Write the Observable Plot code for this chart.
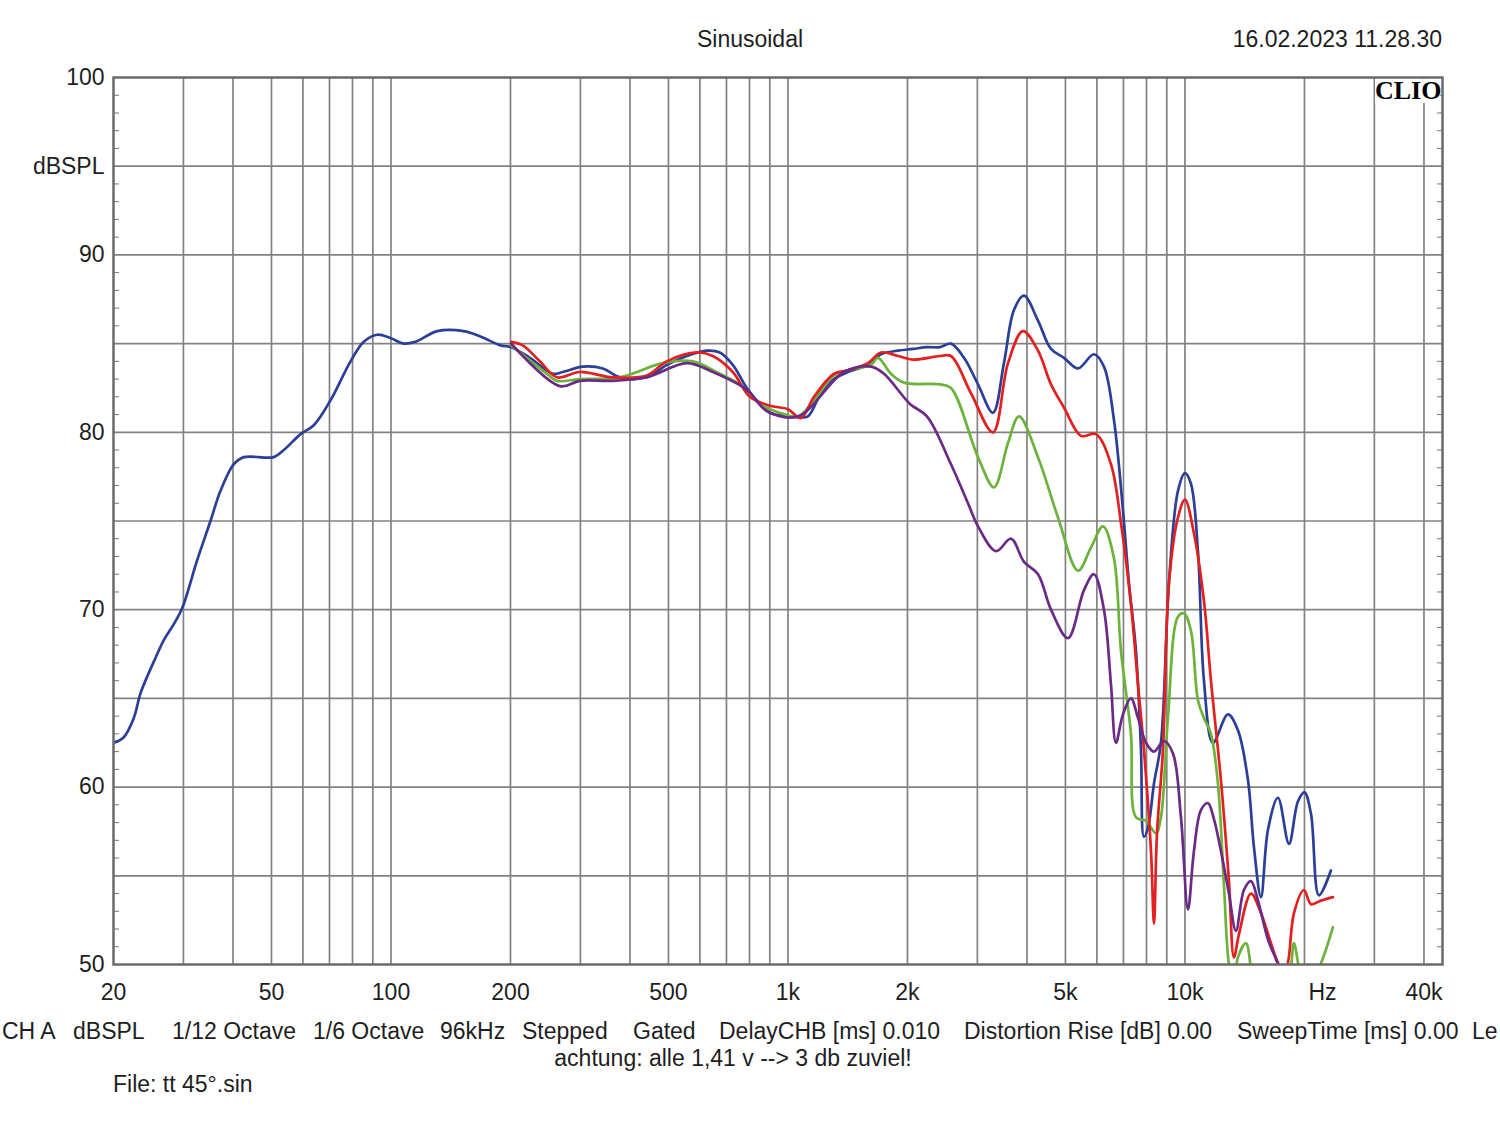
<!DOCTYPE html>
<html><head><meta charset="utf-8">
<script src="https://cdn.jsdelivr.net/npm/d3@7"></script>
<script src="https://cdn.jsdelivr.net/npm/@observablehq/plot@0.6"></script>
<style>
body{margin:0;background:#fff;font-family:"Liberation Sans",Arial,sans-serif;color:#1e1e1e;}
#wrap{position:relative;width:1500px;height:1121px;overflow:hidden;background:#fff;}
#wrap svg{position:absolute;left:0;top:0;}
.t{position:absolute;font-size:23px;white-space:nowrap;line-height:23px;}
#clio{position:absolute;left:1375px;top:79px;width:65px;height:24px;background:#fff;font-family:"Liberation Serif","Times New Roman",serif;font-weight:bold;font-size:26px;line-height:24px;text-align:right;color:#000;}
</style></head><body><div id="wrap"></div>
<script>
// ---- data (frequency in Hz, level in dB SPL) ----
const blueHz = [20,21.2,22.5,23.4,25.3,26.8,28.4,29.8,32.5,35.1,37.2,40.2,42.6,50.7,53.7,59.2,63.9,70.4,79.1,85.4,92.3,100,107.7,115.3,130.8,152.5,168,188.7,200.8,223.8,255.7,270.9,304.2,341.6,377.1,440.9,495.2,556.2,624.6,673.4,726.1,787.5,849.3,900,1000,1060,1123,1211,1306,1416,1554,1715,1893,2065,2239,2415,2574,2776,3011,3284,3500,3710,3931,4264,4598,4958,5377,5898,6251,6624,6980,7227,7526,7749,7884,8070,8356,8700,9113,9603,10000,10354,10783,11165,11763,12831,13598,14412,14923,15541,16186,17150,18281,19262,20000,20770,21750,23318];
const blueDb = [62.5,62.8,63.9,65.3,67.1,68.3,69.2,70.1,72.8,75.0,76.7,78.2,78.6,78.6,79.0,79.9,80.4,81.8,84.0,85.1,85.5,85.3,85.0,85.1,85.7,85.7,85.4,84.9,84.8,84.2,83.3,83.4,83.7,83.6,83.1,83.1,83.8,84.3,84.6,84.5,83.8,82.5,81.6,81.1,80.9,80.85,80.9,82.2,83.0,83.4,83.7,84.4,84.6,84.7,84.8,84.8,85.0,84.2,82.7,81.1,83.9,86.9,87.7,86.3,84.7,84.2,83.6,84.4,83.7,80.7,75.6,71.5,67.7,62.1,57.2,57.7,60.2,62.5,71.5,76.7,77.7,77.1,73.3,66.0,62.5,64.1,63.2,60.4,56.6,53.8,57.6,59.4,56.8,59.2,59.7,58.5,53.9,55.3];

const redHz = [200.8,214.7,237.2,261.7,299,362.1,440.9,495.2,589.4,646.7,726.1,801.3,900,1000,1078,1163,1306,1416,1590,1715,1893,2065,2415,2574,2891,3284,3583,3908,4264,4598,4958,5470,5967,6510,6899,7311,7614,7884,8212,8356,8502,8802,9113,9603,10000,10536,11165,11628,12320,12906,13285,13677,14665,15541,16469,17150,17760,18170,18820,19944,20770,22005,23590];
const redDb = [85.1,84.9,84.0,83.1,83.4,83.1,83.2,84.0,84.5,84.3,83.4,82.0,81.5,81.3,80.8,82.0,83.3,83.5,83.9,84.5,84.3,84.1,84.3,84.3,82.2,80.0,83.9,85.7,84.6,82.7,81.4,79.8,79.9,78.2,74.9,70.3,65.8,62.1,56.4,52.3,57.4,62.1,71.5,75.2,76.2,74.3,70.5,66.0,60.4,54.7,50.4,51.7,54.0,52.9,51.2,50.1,49.6,50.1,52.9,54.2,53.4,53.6,53.8];

const greenHz = [200.8,246.9,261.7,299,377.1,483.9,575.9,673.4,756.2,849.3,953.6,1060,1163,1306,1416,1619,1686,1817,1960,2415,2574,3011,3303,3583,3819,4264,4788,5377,5797,6215,6624,6899,7311,7526,7977,8453,8700,9061,9603,9943,10354,10783,11165,11628,12108,12537,12906,13285,13598,14245,14665,15273,17760,18493,18820,19374,20000,21750,23590];
const greenDb = [84.9,83.3,82.9,83.0,83.1,83.9,84.0,83.3,82.7,81.6,81.1,80.9,81.8,83.2,83.5,83.8,84.2,83.3,82.8,82.7,82.5,78.6,76.9,79.4,80.9,78.6,75.2,72.2,73.5,74.7,72.9,67.7,63.0,58.3,58.1,57.4,58.3,63.9,69.6,69.8,68.8,64.9,63.9,63.0,60.2,54.5,50.0,48.8,50.4,51.2,49.8,47.0,47.0,49.8,51.2,49.8,48.5,49.8,52.1];

const purpleHz = [200.8,266.3,299,362.1,440.9,556.2,646.7,787.5,884.4,1060,1384,1619,1745,2029,2239,2574,2841,3011,3342,3646,3931,4264,4598,5075,5567,5898,6251,6510,6702,6980,7311,7614,7977,8356,8853,9328,9771,10176,10536,10973,11427,11831,12320,12906,13441,14080,14665,15273,16186,17150,17760];
const purpleDb = [85.0,82.6,82.9,82.9,83.1,83.9,83.4,82.4,81.2,80.9,83.4,83.7,83.3,81.6,80.9,78.2,76.0,74.7,73.3,74.0,72.7,72.0,70.0,68.4,71.1,72.0,70.0,65.8,62.5,64.1,65.0,63.9,62.5,62.0,62.6,61.9,58.3,53.1,56.4,58.7,59.1,58.2,56.4,54.0,51.9,54.2,54.7,53.6,51.4,50.0,48.5];

// ---- axes / ticks ----
const xTickValues = [20,50,100,200,500,1000,2000,5000,10000,20000,40000];
const xTickLabels = ["20","50","100","200","500","1k","2k","5k","10k","Hz","40k"];
const xTickShift = [0,0,0,0,0,0,0,0,0,18,0];
const xGridValues = [30,40,50,60,70,80,90,100,200,300,400,500,600,700,800,900,1000,2000,3000,4000,5000,6000,7000,8000,9000,10000,20000,30000,40000];
const yGridValues = [55,60,65,70,75,80,85,90,95];
const yLabelValues = [50,60,70,80,90,95,100];
const yLabelTexts = ["50","60","70","80","90","dBSPL","100"];
const yMinorValues = [51,52,53,54,56,57,58,59,61,62,63,64,66,67,68,69,71,72,73,74,76,77,78,79,81,82,83,84,86,87,88,89,91,92,93,94,96,97,98,99];

const seriesColors = {blue:"#2b3f98", red:"#e3201f", green:"#6bb33a", purple:"#6a2a86"};

function rows(hz, db){ return hz.map((f,i)=>({f, db: db[i]})); }
const xTicks = xTickValues.map((v,i)=>({v, label:xTickLabels[i], shift:xTickShift[i]}));

const lineOpts = (c)=>({x:"f", y:"db", stroke:c, strokeWidth:2.7, curve:"catmull-rom", clip:true});

const chart = Plot.plot({
  width:1500, height:1010,
  marginLeft:113, marginRight:58, marginTop:77, marginBottom:46,
  style:{fontFamily:'"Liberation Sans", Arial, sans-serif', fontSize:"23px", color:"#1e1e1e", background:"transparent", overflow:"visible"},
  x:{type:"log", domain:[20,44540]},
  y:{domain:[50,100]},
  marks:[
    Plot.ruleX(xGridValues,{stroke:"#828282", strokeWidth:1.7}),
    Plot.ruleY(yGridValues,{stroke:"#828282", strokeWidth:1.7}),
    Plot.axisY({ticks:yMinorValues, anchor:"left", tickSize:-6, tickFormat:()=>"", label:null, stroke:"#777"}),
    Plot.axisY({ticks:yMinorValues, anchor:"right", tickSize:-6, tickFormat:()=>"", label:null, stroke:"#777"}),
    Plot.axisY({ticks:yLabelValues, anchor:"left", tickSize:0, tickPadding:9, tickFormat:d=>yLabelTexts[yLabelValues.indexOf(d)], label:null}),
    Plot.axisX({ticks:[], label:null, tickSize:0}),
    ...xTicks.map(t => Plot.text([t], {x:"v", text:"label", frameAnchor:"bottom", lineAnchor:"middle", dy:28, dx:t.shift, fill:"#1e1e1e"})),
    Plot.line(rows(blueHz, blueDb), lineOpts(seriesColors.blue)),
    Plot.line(rows(greenHz, greenDb), lineOpts(seriesColors.green)),
    Plot.line(rows(redHz, redDb), lineOpts(seriesColors.red)),
    Plot.line(rows(purpleHz, purpleDb), lineOpts(seriesColors.purple)),
    Plot.frame({stroke:"#6a6a6a", strokeWidth:2.5})
  ]
});

const wrap = document.getElementById("wrap");
wrap.appendChild(chart);

function addText(txt, left, top, extra){
  const d = document.createElement("div");
  d.className = "t";
  d.textContent = txt;
  d.style.left = left + "px";
  d.style.top = top + "px";
  if (extra) Object.assign(d.style, extra);
  wrap.appendChild(d);
  return d;
}
addText("Sinusoidal", 750, 28, {transform:"translateX(-50%)"});
addText("16.02.2023 11.28.30", 0, 28, {left:"auto", right:"58px"});

const infoItems = ["CH A","dBSPL","1/12 Octave","1/6 Octave","96kHz","Stepped","Gated","DelayCHB [ms] 0.010","Distortion Rise [dB] 0.00","SweepTime [ms] 0.00","Le"];
const infoLeft = [2,73,172,313,440,522,633,719,964,1237,1472];
infoItems.forEach((s,i)=>addText(s, infoLeft[i], 1020));
addText("achtung: alle 1,41 v --> 3 db zuviel!", 733, 1047, {transform:"translateX(-50%)"});
addText("File: tt 45°.sin", 113, 1073);

const clio = document.createElement("div");
clio.id = "clio";
clio.textContent = "CLIO";
wrap.appendChild(clio);
</script>
</body></html>
